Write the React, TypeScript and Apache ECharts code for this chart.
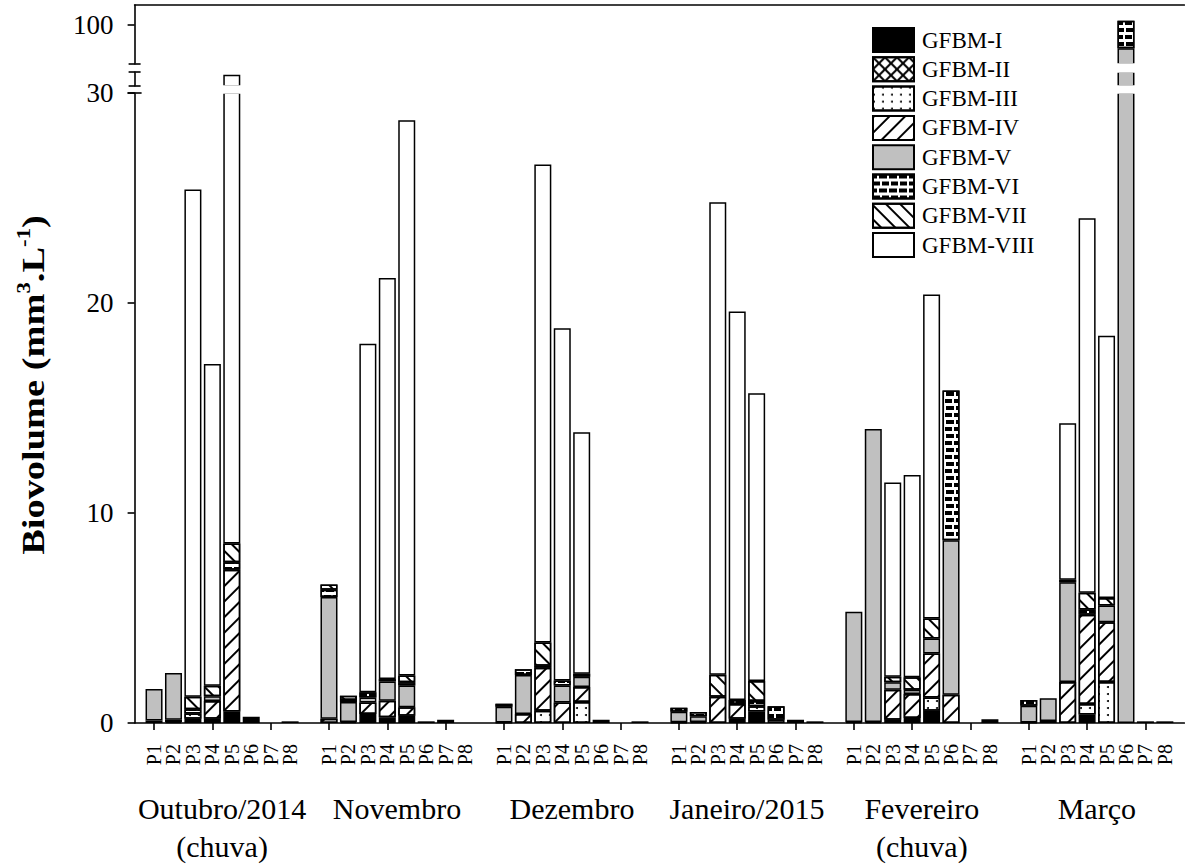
import React, { useEffect, useRef } from "react";
import * as echarts from "echarts";

// ---------------- data ----------------
const months = [
  "Outubro/2014\n(chuva)",
  "Novembro",
  "Dezembro",
  "Janeiro/2015",
  "Fevereiro\n(chuva)",
  "Março",
];
const pointLabels = ["P1", "P2", "P3", "P4", "P5", "P6", "P7", "P8"];
const groupNames = [
  "GFBM-I",
  "GFBM-II",
  "GFBM-III",
  "GFBM-IV",
  "GFBM-V",
  "GFBM-VI",
  "GFBM-VII",
  "GFBM-VIII",
];

// each array: rows = months (Out..Mar), columns = P1..P8
const gfbmI = [
  [0.12, 0.05, 0.2, 0.2, 0.55, 0.3, 0, 0.08],
  [0, 0.05, 0.43, 0.27, 0.35, 0.08, 0.15, 0],
  [0.02, 0, 0, 0, 0, 0.15, 0, 0.08],
  [0.03, 0.05, 0, 0.2, 0.55, 0, 0.15, 0.08],
  [0.05, 0.05, 0.16, 0.24, 0.58, 0, 0, 0.18],
  [0.02, 0.1, 0, 0.4, 0, 0, 0.08, 0.08],
];
const gfbmII = [
  [0, 0, 0, 0, 0, 0, 0, 0],
  [0, 0, 0, 0, 0, 0, 0, 0],
  [0, 0, 0, 0, 0, 0, 0, 0],
  [0, 0, 0, 0, 0, 0, 0, 0],
  [0, 0, 0, 0, 0, 0, 0, 0],
  [0, 0, 0, 0, 0, 0, 0, 0],
];
const gfbmIII = [
  [0, 0, 0.25, 0, 0, 0, 0, 0],
  [0, 0, 0, 0, 0, 0, 0, 0],
  [0, 0, 0.58, 0, 1.0, 0, 0, 0],
  [0, 0, 0, 0, 0.25, 0, 0, 0],
  [0, 0, 0, 0, 0.63, 0, 0, 0],
  [0, 0, 0, 0.5, 1.95, 0, 0, 0],
];
const gfbmIV = [
  [0, 0.1, 0, 0.85, 6.75, 0, 0, 0],
  [0.2, 0, 0.55, 0.79, 0.4, 0, 0, 0],
  [0, 0.43, 2.05, 0.98, 0.72, 0, 0, 0],
  [0, 0, 1.25, 0.7, 0, 0, 0, 0],
  [0, 0, 1.42, 1.14, 2.1, 1.35, 0, 0],
  [0, 0, 1.95, 4.25, 2.85, 0, 0, 0],
];
const gfbmV = [
  [1.5, 2.23, 0, 0.22, 0, 0, 0, 0],
  [5.8, 0.95, 0.24, 0.92, 1.03, 0, 0, 0],
  [0.75, 1.86, 0, 0.8, 0.48, 0, 0, 0],
  [0.5, 0.27, 0, 0, 0, 0.15, 0, 0],
  [5.25, 13.95, 0.36, 0.2, 0.71, 7.35, 0, 0],
  [0.8, 1.08, 4.75, 0, 0.8, 94.0, 0, 0],
];
const gfbmVI = [
  [0, 0, 0.2, 0, 0.35, 0, 0, 0],
  [0.35, 0.1, 0.24, 0.11, 0.16, 0, 0, 0],
  [0.15, 0.27, 0.1, 0.24, 0.15, 0, 0, 0],
  [0.2, 0.2, 0, 0.2, 0.25, 0.65, 0, 0],
  [0, 0, 0, 0, 0, 7.13, 0, 0],
  [0.28, 0, 0.12, 0.25, 0, 7.0, 0, 0],
];
const gfbmVII = [
  [0, 0, 0.6, 0.5, 0.9, 0, 0, 0],
  [0.25, 0.2, 0, 0, 0.32, 0, 0, 0],
  [0, 0, 1.1, 0, 0, 0, 0, 0],
  [0, 0, 1.05, 0, 0.95, 0, 0, 0],
  [0, 0, 0.26, 0.6, 0.96, 0, 0, 0],
  [0, 0, 0, 0.8, 0.35, 0, 0, 0],
];
const gfbmVIII = [
  [0, 0, 24.15, 15.33, 29.45, 0, 0, 0],
  [0, 0, 16.6, 19.1, 26.44, 0, 0, 0],
  [0, 0, 22.77, 16.78, 11.49, 0, 0, 0],
  [0, 0, 22.5, 18.5, 13.7, 0, 0, 0],
  [0, 0, 9.25, 9.63, 15.42, 0, 0, 0],
  [0, 0, 7.45, 17.83, 12.49, 0, 0, 0],
];

// y-axis segments (broken axis)
const lowerRange = [0, 30];
const middleRange = [30, 40];
const upperRange = [90, 105];
const lowerTicks = [0, 10, 20, 30];
const upperTicks = [100];

// ---------------- layout / style ----------------
const W = 1185;
const H = 865;
const GRID_LEFT = 134.6;
const GRID_RIGHT = 0.7;
const LOWER = { top: 93, bottom: 727 };
const MIDDLE = { top: 72, bottom: 86 };
const UPPER = { top: 5, bottom: 64 };
const FONT = "'Liberation Serif', 'Times New Roman', serif";
const SLOTS_PER_MONTH = 9;
const FIRST_SLOT = -1;
const LAST_SLOT = 53;

const allValues = [gfbmI, gfbmII, gfbmIII, gfbmIV, gfbmV, gfbmVI, gfbmVII, gfbmVIII];
const fills = ["#000", "#fff", "#fff", "#fff", "#c0c0c0", "#fff", "#fff", "#fff"];
const decals: any[] = [
  null,
  {
    symbol:
      "path://M0,0L1.2,0L10,8.8L10,10L8.8,10L0,1.2Z M8.8,0L10,0L10,1.2L1.2,10L0,10L0,8.8Z",
    symbolSize: 1,
    symbolKeepAspect: false,
    dashArrayX: [12, 0],
    dashArrayY: [12, 0],
    color: "#000",
  },
  {
    symbol: "circle",
    symbolSize: 1,
    dashArrayX: [2, 7],
    dashArrayY: [2, 5],
    color: "#000",
  },
  {
    symbol: "rect",
    symbolSize: 1,
    symbolKeepAspect: false,
    dashArrayX: [1, 0],
    dashArrayY: [1.5, 9],
    rotation: -Math.PI / 4,
    color: "#000",
  },
  null,
  {
    symbol: "rect",
    symbolSize: 1,
    symbolKeepAspect: false,
    dashArrayX: [
      [7, 2],
      [3.5, 2, 3.5, 0],
    ],
    dashArrayY: [4, 2.5],
    color: "#000",
  },
  {
    symbol: "rect",
    symbolSize: 1,
    symbolKeepAspect: false,
    dashArrayX: [1, 0],
    dashArrayY: [1.5, 8],
    rotation: Math.PI / 4,
    color: "#000",
  },
  null,
];

function slotCategories(): string[] {
  const out: string[] = [];
  for (let s = FIRST_SLOT; s <= LAST_SLOT; s++) {
    const m = Math.floor(s / SLOTS_PER_MONTH);
    const p = s - m * SLOTS_PER_MONTH;
    if (s >= 0 && m < months.length && p < pointLabels.length) out.push(pointLabels[p]);
    else out.push("");
  }
  return out;
}

function slotSeries(values: number[][]): (number | string)[] {
  const out: (number | string)[] = [];
  for (let s = FIRST_SLOT; s <= LAST_SLOT; s++) {
    const m = Math.floor(s / SLOTS_PER_MONTH);
    const p = s - m * SLOTS_PER_MONTH;
    if (s >= 0 && m < months.length && p < pointLabels.length) {
      const v = values[m][p];
      out.push(v > 0 ? v : "-");
    } else out.push("-");
  }
  return out;
}

export default function App() {
  const ref = useRef<HTMLDivElement>(null);

  useEffect(() => {
    if (!ref.current) return;
    const chart = echarts.init(ref.current, undefined, { renderer: "svg" });
    const cats = slotCategories();
    const axisLine = { show: true, lineStyle: { color: "#000", width: 1.6 } };

    const grids = [
      { left: GRID_LEFT, right: GRID_RIGHT, top: LOWER.top, height: LOWER.bottom - LOWER.top },
      { left: GRID_LEFT, right: GRID_RIGHT, top: MIDDLE.top, height: MIDDLE.bottom - MIDDLE.top },
      { left: GRID_LEFT, right: GRID_RIGHT, top: UPPER.top, height: UPPER.bottom - UPPER.top },
    ];

    const xAxes: any[] = [
      {
        gridIndex: 0,
        type: "category",
        data: cats,
        boundaryGap: false,
        position: "bottom",
        axisLine,
        axisTick: {
          show: true,
          length: 7,
          lineStyle: { color: "#000", width: 1.6 },
          interval: (i: number) => i >= 1 && (i - 1) % 3 === 0 && i - 1 <= 51,
        },
        axisLabel: {
          interval: 0,
          rotate: 90,
          margin: 21,
          fontSize: 20,
          fontFamily: FONT,
          color: "#000",
        },
        splitLine: { show: false },
      },
      {
        gridIndex: 0,
        type: "category",
        data: months,
        boundaryGap: true,
        position: "bottom",
        axisLine: { show: false },
        axisTick: { show: false },
        axisLabel: {
          interval: 0,
          margin: 66,
          fontSize: 30,
          lineHeight: 38,
          fontFamily: FONT,
          color: "#000",
        },
        splitLine: { show: false },
      },
      {
        gridIndex: 1,
        type: "category",
        data: cats,
        boundaryGap: false,
        show: false,
      },
      {
        gridIndex: 2,
        type: "category",
        data: cats,
        boundaryGap: false,
        position: "top",
        axisLine,
        axisTick: { show: false },
        axisLabel: { show: false },
        splitLine: { show: false },
      },
    ];

    const yAxes: any[] = [
      {
        gridIndex: 0,
        type: "value",
        min: lowerRange[0],
        max: lowerRange[1],
        interval: 10,
        axisLine,
        axisTick: {
          show: true,
          length: 7,
          lineStyle: { color: "#000", width: 1.6 },
          customValues: lowerTicks,
        },
        axisLabel: {
          margin: 21,
          fontSize: 27,
          fontFamily: FONT,
          color: "#000",
          customValues: lowerTicks,
        },
        splitLine: { show: false },
      },
      {
        gridIndex: 1,
        type: "value",
        min: middleRange[0],
        max: middleRange[1],
        interval: 10,
        axisLine,
        axisTick: { show: false },
        axisLabel: { show: false },
        splitLine: { show: false },
      },
      {
        gridIndex: 2,
        type: "value",
        min: upperRange[0],
        max: upperRange[1],
        interval: 10,
        axisLine,
        axisTick: {
          show: true,
          length: 7,
          lineStyle: { color: "#000", width: 1.6 },
          customValues: upperTicks,
        },
        axisLabel: {
          margin: 21,
          fontSize: 27,
          fontFamily: FONT,
          color: "#000",
          customValues: upperTicks,
          formatter: (v: number) => (upperTicks.indexOf(v) >= 0 ? String(v) : ""),
        },
        splitLine: { show: false },
      },
    ];

    const series: any[] = [];
    [0, 1, 2].forEach((gi) => {
      allValues.forEach((vals, k) => {
        const itemStyle: any = {
          color: fills[k],
          borderColor: "#000",
          borderWidth: 1.5,
        };
        if (decals[k]) itemStyle.decal = decals[k];
        series.push({
          type: "bar",
          name: groupNames[k],
          stack: "stack" + gi,
          xAxisIndex: gi === 0 ? 0 : gi + 1,
          yAxisIndex: gi,
          data: slotSeries(vals),
          barWidth: 17,
          clip: true,
          silent: true,
          itemStyle,
          emphasis: { disabled: true },
        });
      });
    });

    const bx = GRID_LEFT;
    const breakLine = (y: number, x1: number, x2: number) => ({
      type: "line",
      z: 20,
      shape: { x1, y1: y, x2, y2: y },
      style: { stroke: "#000", lineWidth: 1.6 },
      silent: true,
    });
    // white bands that open the gaps of the broken axis through the bars
    const gapCover = (y1: number, y2: number) => ({
      type: "rect",
      z: 15,
      shape: { x: bx + 1, y: y1, width: W - bx, height: y2 - y1 },
      style: { fill: "#fff" },
      silent: true,
    });

    const option: any = {
      animation: false,
      backgroundColor: "#fff",
      grid: grids,
      xAxis: xAxes,
      yAxis: yAxes,
      series,
      legend: {
        data: groupNames,
        orient: "vertical",
        left: 867,
        top: 22,
        z: 40,
        itemWidth: 41,
        itemHeight: 24,
        itemGap: 3.3,
        icon: "rect",
        selectedMode: false,
        backgroundColor: "transparent",
        itemStyle: { borderColor: "#000", borderWidth: 2 },
        textStyle: {
          fontSize: 23,
          fontFamily: FONT,
          color: "#000",
          padding: [0, 0, 0, 3],
        },
      },
      graphic: [
        {
          type: "text",
          x: 34,
          y: 385,
          rotation: Math.PI / 2,
          scaleX: 1.2,
          silent: true,
          style: {
            text: "{b|Biovolume (mm}{s|3}{b|.L}{s|-1}{b|)}",
            align: "center",
            verticalAlign: "middle",
            rich: {
              b: {
                fontSize: 32,
                fontWeight: "bold",
                fontFamily: FONT,
                fill: "#000",
                lineHeight: 40,
              },
              s: {
                fontSize: 19,
                fontWeight: "bold",
                fontFamily: FONT,
                fill: "#000",
                lineHeight: 26,
                verticalAlign: "top",
              },
            },
          },
        },
        gapCover(UPPER.bottom - 0.8, MIDDLE.top + 0.8),
        gapCover(MIDDLE.bottom - 0.8, LOWER.top + 0.8),
        breakLine(UPPER.bottom, bx - 6, bx + 6),
        breakLine(MIDDLE.top, bx - 6, bx + 6),
        breakLine(MIDDLE.bottom, bx - 6, bx + 6),
        breakLine(LOWER.top, bx - 7, bx + 7),
      ],
    };

    chart.setOption(option);
    return () => chart.dispose();
  }, []);

  return (
    <div
      ref={ref}
      style={{ position: "fixed", left: 0, top: 0, width: W, height: H, background: "#fff" }}
    />
  );
}
